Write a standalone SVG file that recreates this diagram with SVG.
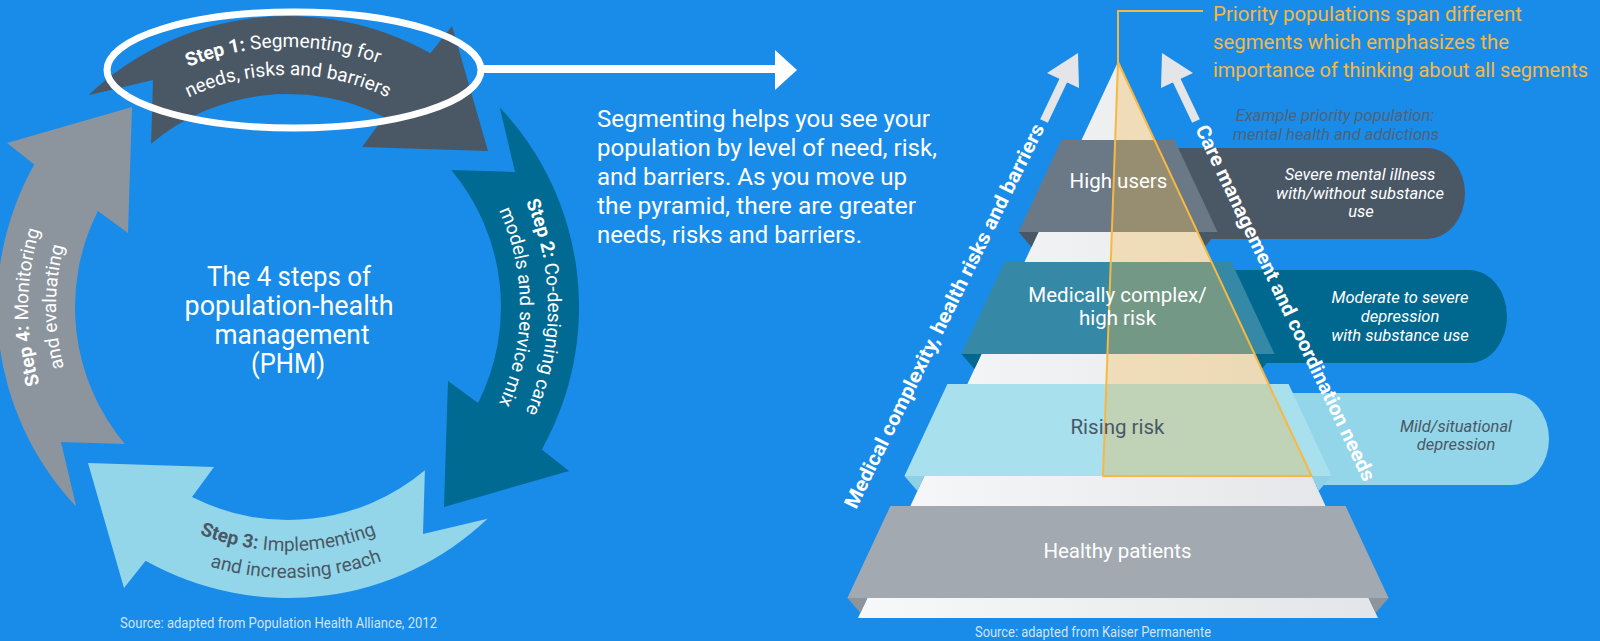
<svg xmlns="http://www.w3.org/2000/svg" width="1600" height="641" viewBox="0 0 1600 641">
<defs>
<style>
text{font-family:Roboto,'Liberation Sans',sans-serif}
.st{font-size:19px;fill:#fff}
.dk{fill:#4a5866}
.b{font-weight:700}
.par{font-size:24px;fill:#fff}
.ttl{font-size:27px;fill:#fff;text-anchor:middle}
.lab{font-size:20.5px;fill:#fff;text-anchor:middle}
.co{font-size:16.5px;font-style:italic;fill:#fff;text-anchor:middle}
.pri{font-size:20px;fill:#f7b843}
.ex{font-size:16.5px;font-style:italic;fill:#4d6478;text-anchor:middle}
.axis{font-size:20px;font-weight:700;fill:#fff}
.src{font-size:14.5px;fill:#cfe4f7}
.side{fill:#e3e5e8}
</style>
<path id="arrow" d="M88.4,95.2 A291,291 0 0 1 430.4,53.2 L452,26 L488,151 L362,147 L384,116.9 A213,213 0 0 0 151.1,143.8 L153,80 Z"/>
<path id="tpOut" d="M28,307 A260,260 0 0 1 548,307"/>
<path id="tpIn" d="M56,307 A232,232 0 0 1 520,307"/>
<path id="tpB1" d="M44,307 A244,244 0 0 0 532,307"/>
<path id="tpB2" d="M17,307 A271,271 0 0 0 559,307"/>
<linearGradient id="pyr" x1="0" x2="1" y1="0" y2="0">
<stop offset="0" stop-color="#f7f8f9"/><stop offset="1" stop-color="#e3e5e8"/>
</linearGradient>
</defs>
<rect width="1600" height="641" fill="#198be9"/>

<g id="step1">
<use href="#arrow" fill="#4a5866"/>
<ellipse cx="294" cy="70" rx="187" ry="58" fill="none" stroke="#fff" stroke-width="7"/>
<text class="st"><textPath href="#tpOut" startOffset="49.4%" text-anchor="middle"><tspan class="b">Step 1:</tspan> Segmenting for</textPath></text>
<text class="st"><textPath href="#tpIn" startOffset="50%" text-anchor="middle">needs, risks and barriers</textPath></text>
</g>

<g id="step2">
<use href="#arrow" fill="#006a93" transform="rotate(90 288 307)"/>
<text class="st" transform="rotate(90 288 307)"><textPath href="#tpOut" startOffset="50%" text-anchor="middle"><tspan class="b">Step 2:</tspan> Co-designing care</textPath></text>
<text class="st" transform="rotate(90 288 307)"><textPath href="#tpIn" startOffset="50%" text-anchor="middle">models and service mix</textPath></text>
</g>

<g id="step3">
<use href="#arrow" fill="#93d6e9" transform="rotate(180 288 307)"/>
<text class="st dk"><textPath href="#tpB1" startOffset="50%" text-anchor="middle"><tspan class="b">Step 3:</tspan> Implementing</textPath></text>
<text class="st dk"><textPath href="#tpB2" startOffset="51%" text-anchor="middle">and increasing reach</textPath></text>
</g>

<g id="step4">
<use href="#arrow" fill="#8c959d" transform="rotate(-90 288 307)"/>
<text class="st" transform="rotate(-90 288 307)"><textPath href="#tpOut" startOffset="50%" text-anchor="middle"><tspan class="b">Step 4:</tspan> Monitoring</textPath></text>
<text class="st" transform="rotate(-90 288 307)"><textPath href="#tpIn" startOffset="50%" text-anchor="middle">and evaluating</textPath></text>
</g>

<g id="title">
<text class="ttl" x="289" y="286" textLength="164" lengthAdjust="spacingAndGlyphs">The 4 steps of</text>
<text class="ttl" x="289" y="315" textLength="209" lengthAdjust="spacingAndGlyphs">population-health</text>
<text class="ttl" x="292" y="344" textLength="155" lengthAdjust="spacingAndGlyphs">management</text>
<text class="ttl" x="288" y="373" textLength="74" lengthAdjust="spacingAndGlyphs">(PHM)</text>
</g>

<g id="source-left">
<text class="src" x="120" y="628" textLength="317" lengthAdjust="spacingAndGlyphs">Source: adapted from Population Health Alliance, 2012</text>
</g>

<g id="explanation">
<text class="par" x="597" y="127" textLength="333" lengthAdjust="spacingAndGlyphs">Segmenting helps you see your</text>
<text class="par" x="597" y="156" textLength="340" lengthAdjust="spacingAndGlyphs">population by level of need, risk,</text>
<text class="par" x="597" y="185" textLength="310" lengthAdjust="spacingAndGlyphs">and barriers. As you move up</text>
<text class="par" x="597" y="214" textLength="319" lengthAdjust="spacingAndGlyphs">the pyramid, there are greater</text>
<text class="par" x="597" y="243" textLength="265" lengthAdjust="spacingAndGlyphs">needs, risks and barriers.</text>
</g>

<g id="callout-high">
<rect x="1120" y="148" width="345" height="91" rx="38" ry="45.5" fill="#4a5866"/>
<text class="co" x="1360" y="180">Severe mental illness</text>
<text class="co" x="1360" y="198.5">with/without substance</text>
<text class="co" x="1361" y="217">use</text>
</g>
<g id="callout-medical">
<rect x="1160" y="270" width="347" height="93" rx="38" ry="46.5" fill="#00688f"/>
<text class="co" x="1400" y="303">Moderate to severe</text>
<text class="co" x="1400" y="322">depression</text>
<text class="co" x="1400" y="341">with substance use</text>
</g>
<g id="callout-rising">
<rect x="1200" y="393" width="349" height="92" rx="38" ry="46" fill="#93d6e9"/>
<text class="co" x="1456" y="431.5" style="fill:#4a5866">Mild/situational</text>
<text class="co" x="1456" y="449.5" style="fill:#4a5866">depression</text>
</g>

<g id="pyramid">
<polygon points="1118,62 1378,618 858,618" fill="url(#pyr)"/>
</g>

<g id="slab-high">
<polygon points="1061.5,140 1174.5,140 1217.5,232 1018.5,232" fill="#6b7987"/>
<polygon points="1018.5,232 1038.5,232 1031.5,247" fill="#4a5866"/>
<polygon points="1217.5,232 1197.5,232 1204.5,247" fill="#4a5866"/>
</g>
<g id="slab-medical">
<polygon points="1004.5,262 1231.5,262 1274.5,354 961.5,354" fill="#3689a6"/>
<polygon points="961.5,354 981.5,354 974.4,369" fill="#00678f"/>
<polygon points="1274.5,354 1254.5,354 1261.6,369" fill="#00678f"/>
</g>
<g id="slab-rising">
<polygon points="947.4,384 1288.6,384 1331.6,476 904.4,476" fill="#a8e0ed"/>
<polygon points="904.4,476 924.4,476 917.4,491" fill="#8fd0e4"/>
<polygon points="1331.6,476 1311.6,476 1318.6,491" fill="#8fd0e4"/>
</g>
<g id="slab-healthy">
<polygon points="890.4,506 1345.6,506 1388.6,598 847.4,598" fill="#a2a9b0"/>
<polygon points="847.4,598 867.4,598 860.4,613" fill="#8d949b"/>
<polygon points="1388.6,598 1368.6,598 1375.6,613" fill="#8d949b"/>
<text class="lab" x="1117.5" y="558">Healthy patients</text>
</g>

<g id="priority-overlay">
<polygon points="1118,62 1311.6,476 1103,476" fill="#f7b843" fill-opacity="0.32" stroke="#f7b843" stroke-width="2" stroke-linejoin="round"/>
</g>

<g id="labels">
<text class="lab" x="1118.5" y="188">High users</text>
<text class="lab" x="1117.5" y="302">Medically complex/</text>
<text class="lab" x="1117.5" y="325">high risk</text>
<text class="lab" x="1117.5" y="434" style="fill:#4a5866">Rising risk</text>
</g>

<g id="priority-note">
<text class="pri" x="1213" y="21" textLength="309" lengthAdjust="spacingAndGlyphs">Priority populations span different</text>
<text class="pri" x="1213" y="49" textLength="296" lengthAdjust="spacingAndGlyphs">segments which emphasizes the</text>
<text class="pri" x="1213" y="77" textLength="375" lengthAdjust="spacingAndGlyphs">importance of thinking about all segments</text>
</g>

<g id="example-label">
<text class="ex" x="1335" y="121">Example priority population:</text>
<text class="ex" x="1336" y="139.5">mental health and addictions</text>
</g>

<g id="axis-left">
<text class="axis" transform="translate(856,510) rotate(-63.7)" textLength="426" lengthAdjust="spacingAndGlyphs">Medical complexity, health risks and barriers</text>
</g>
<g id="axis-right">
<text class="axis" transform="translate(1195,129) rotate(64.5)" textLength="392" lengthAdjust="spacingAndGlyphs">Care management and coordination needs</text>
</g>

<g id="source-right">
<text class="src" x="975" y="637" textLength="236" lengthAdjust="spacingAndGlyphs">Source: adapted from Kaiser Permanente</text>
</g>

<g id="connectors">
<line x1="484" y1="69" x2="777" y2="69" stroke="#fff" stroke-width="8"/>
<polygon points="775,50 797,70 775,90" fill="#fff"/>
<line x1="1044" y1="121" x2="1064" y2="79" stroke="#e3e5e8" stroke-width="8.5"/>
<polygon class="side" points="1078,53 1047,73 1079,88"/>
<line x1="1196" y1="121" x2="1176" y2="79" stroke="#e3e5e8" stroke-width="8.5"/>
<polygon class="side" points="1162,53 1193,73 1161,88"/>
<polyline points="1203,11 1118,11 1118,62" fill="none" stroke="#f7b843" stroke-width="2"/>
</g>
</svg>
